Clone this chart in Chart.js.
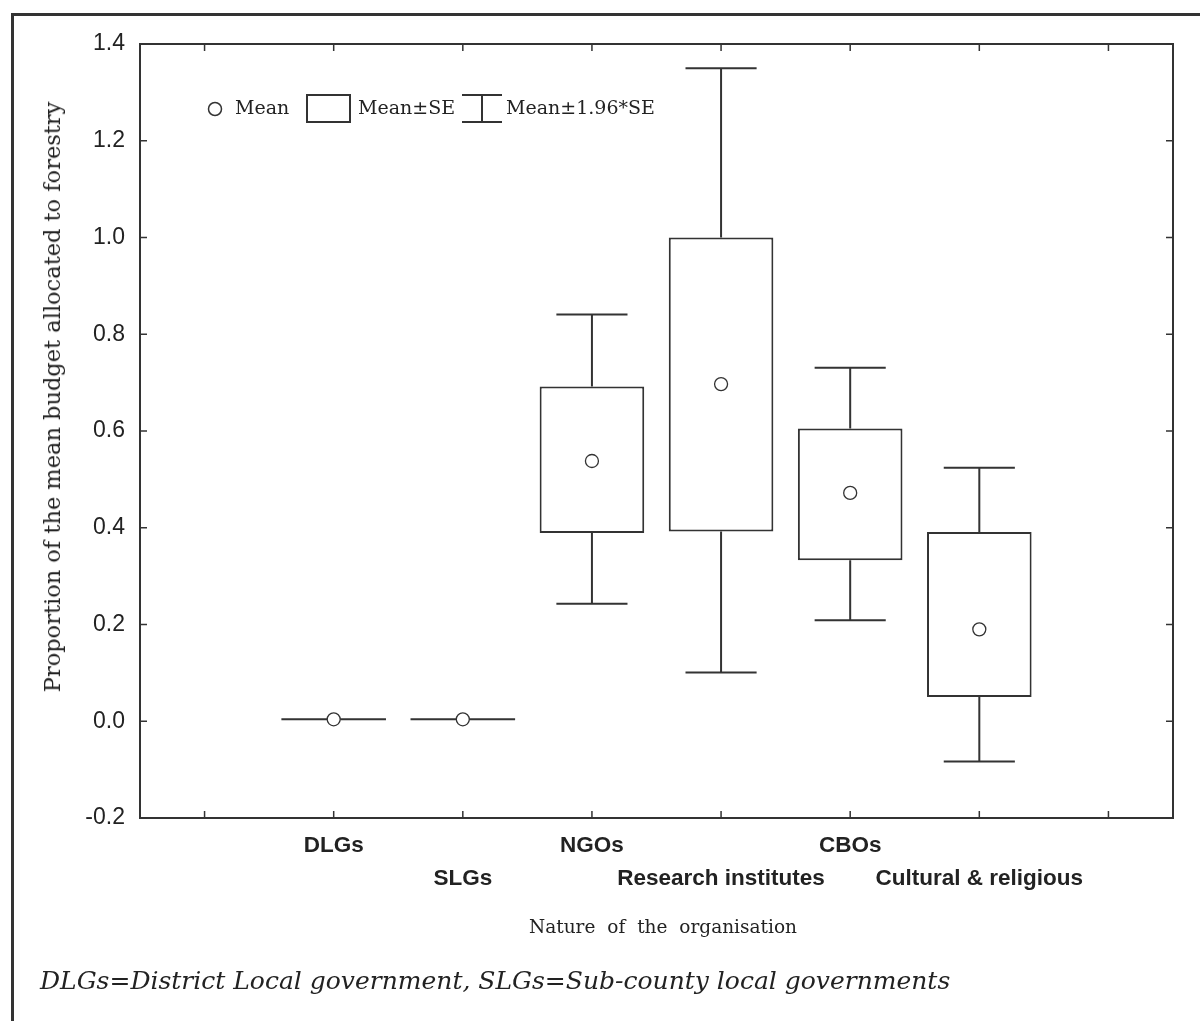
<!DOCTYPE html>
<html>
<head>
<meta charset="utf-8">
<script src="https://cdn.jsdelivr.net/npm/chart.js@4.4.1/dist/chart.umd.min.js"></script>
<style>
  body { margin: 0; background: #fff; overflow: hidden; }
  #wrap { position: relative; width: 1200px; height: 1021px; }
  #frame { position: absolute; left: 11px; top: 13px; right: -20px; bottom: -20px; border: 3px solid #333; }
  canvas { position: absolute; left: 0; top: 0; }
  .txt { position: absolute; color: #222; white-space: nowrap; font-family: "DejaVu Serif", serif; }
  #ytitle { left: 52px; top: 397px; font-size: 22.5px; transform: translate(-50%, -50%) rotate(-90deg); }
  #xtitle { left: 663px; top: 926px; font-size: 18.5px; word-spacing: 6px; transform: translate(-50%, -50%); }
  #note { left: 40px; top: 980px; font-size: 25px; font-style: italic; transform: translateY(-50%); }
</style>
</head>
<body>
<div id="wrap">
  <div id="frame"></div>
  <canvas id="chart" width="1200" height="1021"></canvas>
  <div class="txt" id="ytitle">Proportion of the mean budget allocated to forestry</div>
  <div class="txt" id="xtitle">Nature of the organisation</div>
  <div class="txt" id="note">DLGs=District Local government, SLGs=Sub-county local governments</div>
</div>
<script>
// blank slots at both ends keep the empty tick positions of the original
const categories = ['', 'DLGs', 'SLGs', 'NGOs', 'Research institutes', 'CBOs', 'Cultural & religious', ''];
// labels on the second row are staggered down one line
const labelRow = [1, 1, 2, 1, 2, 1, 2, 1];

const means  = [null, 0.004, 0.004, 0.538, 0.697, 0.472, 0.190, null];
const seLow  = [null, 0.004, 0.004, 0.389, 0.392, 0.333, 0.050, null];
const seHigh = [null, 0.004, 0.004, 0.692, 1.000, 0.605, 0.391, null];
const ciLow  = [null, 0.004, 0.004, 0.243, 0.101, 0.209, -0.083, null];
const ciHigh = [null, 0.004, 0.004, 0.841, 1.350, 0.731, 0.524, null];

const yMin = -0.2, yMax = 1.4, yStep = 0.2;

const ink = '#333';

const boxes = categories.map((c, i) => means[i] === null ? null : [seLow[i], seHigh[i]]);

// whiskers (and the flat boxes that have no height)
const whiskers = {
  id: 'whiskers',
  beforeDatasetsDraw(chart) {
    const { ctx, scales: { y } } = chart;
    const bars = chart.getDatasetMeta(1).data;
    ctx.save();
    ctx.strokeStyle = ink;
    ctx.lineWidth = 2;
    ctx.beginPath();
    bars.forEach((bar, i) => {
      if (means[i] === null) return;
      const cx = bar.x, half = bar.width / 2, cap = half * 0.68;
      if (seLow[i] === seHigh[i]) {
        const py = y.getPixelForValue(seLow[i]);
        ctx.moveTo(cx - half, py); ctx.lineTo(cx + half, py);
        return;
      }
      const top = y.getPixelForValue(ciHigh[i]), bot = y.getPixelForValue(ciLow[i]);
      ctx.moveTo(cx, y.getPixelForValue(seHigh[i])); ctx.lineTo(cx, top);
      ctx.moveTo(cx - cap, top); ctx.lineTo(cx + cap, top);
      ctx.moveTo(cx, y.getPixelForValue(seLow[i])); ctx.lineTo(cx, bot);
      ctx.moveTo(cx - cap, bot); ctx.lineTo(cx + cap, bot);
    });
    ctx.stroke();
    ctx.restore();
  }
};

// plot frame with inward ticks on all four sides
const frameTicks = {
  id: 'frameTicks',
  afterDraw(chart) {
    const { ctx, chartArea: a, scales: { x, y } } = chart;
    const len = 7;
    ctx.save();
    ctx.strokeStyle = ink;
    ctx.lineWidth = 2;
    ctx.strokeRect(a.left, a.top, a.right - a.left, a.bottom - a.top);
    ctx.lineWidth = 1.5;
    ctx.beginPath();
    x.ticks.forEach((t, i) => {
      const px = x.getPixelForTick(i);
      ctx.moveTo(px, a.bottom); ctx.lineTo(px, a.bottom - len);
      ctx.moveTo(px, a.top); ctx.lineTo(px, a.top + len);
    });
    y.ticks.forEach((t, i) => {
      const py = y.getPixelForTick(i);
      ctx.moveTo(a.left, py); ctx.lineTo(a.left + len, py);
      ctx.moveTo(a.right, py); ctx.lineTo(a.right - len, py);
    });
    ctx.stroke();
    ctx.restore();
  }
};

// the in-plot key: Mean / Mean±SE / Mean±1.96*SE
const keyBox = {
  id: 'keyBox',
  afterDraw(chart) {
    const { ctx, chartArea: a } = chart;
    const cy = a.top + 65;
    ctx.save();
    ctx.strokeStyle = ink;
    ctx.fillStyle = '#222';
    ctx.lineWidth = 1.5;
    ctx.font = '19px "DejaVu Serif", serif';
    ctx.textBaseline = 'middle';

    ctx.beginPath();
    ctx.arc(a.left + 75, cy, 6.5, 0, Math.PI * 2);
    ctx.stroke();
    ctx.fillText('Mean', a.left + 95, cy);

    ctx.lineWidth = 2;
    ctx.strokeRect(a.left + 167, cy - 14, 43, 27);
    ctx.fillText('Mean\u00b1SE', a.left + 218, cy);

    const wx = a.left + 342;
    ctx.beginPath();
    ctx.moveTo(wx - 20, cy - 14); ctx.lineTo(wx + 20, cy - 14);
    ctx.moveTo(wx - 20, cy + 13); ctx.lineTo(wx + 20, cy + 13);
    ctx.moveTo(wx, cy - 14); ctx.lineTo(wx, cy + 13);
    ctx.stroke();
    ctx.fillText('Mean\u00b11.96*SE', a.left + 366, cy);
    ctx.restore();
  }
};

new Chart(document.getElementById('chart'), {
  data: {
    labels: categories,
    datasets: [
      {
        type: 'line',
        data: means,
        showLine: false,
        order: 0,
        pointStyle: 'circle',
        pointRadius: 6.5,
        pointBackgroundColor: '#fff',
        pointBorderColor: ink,
        pointBorderWidth: 1.3
      },
      {
        type: 'bar',
        data: boxes,
        order: 1,
        backgroundColor: '#fff',
        borderColor: ink,
        borderWidth: 2,
        borderSkipped: false,
        categoryPercentage: 1,
        barPercentage: 0.81
      }
    ]
  },
  options: {
    responsive: false,
    animation: false,
    layout: { padding: { left: 0, top: 44, right: 27, bottom: 0 } },
    plugins: { legend: { display: false }, tooltip: { enabled: false } },
    scales: {
      x: {
        type: 'category',
        offset: true,
        grid: { display: false, drawTicks: false },
        border: { display: false },
        afterFit: (s) => { s.height = 203; },
        ticks: {
          autoSkip: false,
          maxRotation: 0,
          padding: 11,
          color: '#222',
          font: { family: '"Liberation Sans", Arial, sans-serif', size: 22.5, weight: 'bold', lineHeight: 1.47 },
          callback: function (v, i) {
            const name = categories[i];
            return labelRow[i] === 2 ? ['', name] : name;
          }
        }
      },
      y: {
        min: yMin,
        max: yMax,
        grid: { display: false, drawTicks: false },
        border: { display: false },
        afterFit: (s) => { s.width = 140; },
        ticks: {
          stepSize: yStep,
          padding: 15,
          color: '#222',
          font: { family: '"Liberation Sans", Arial, sans-serif', size: 23 },
          callback: (v) => (Math.abs(v) < 1e-9 ? 0 : v).toFixed(1)
        }
      }
    }
  },
  plugins: [whiskers, frameTicks, keyBox]
});
</script>
</body>
</html>
